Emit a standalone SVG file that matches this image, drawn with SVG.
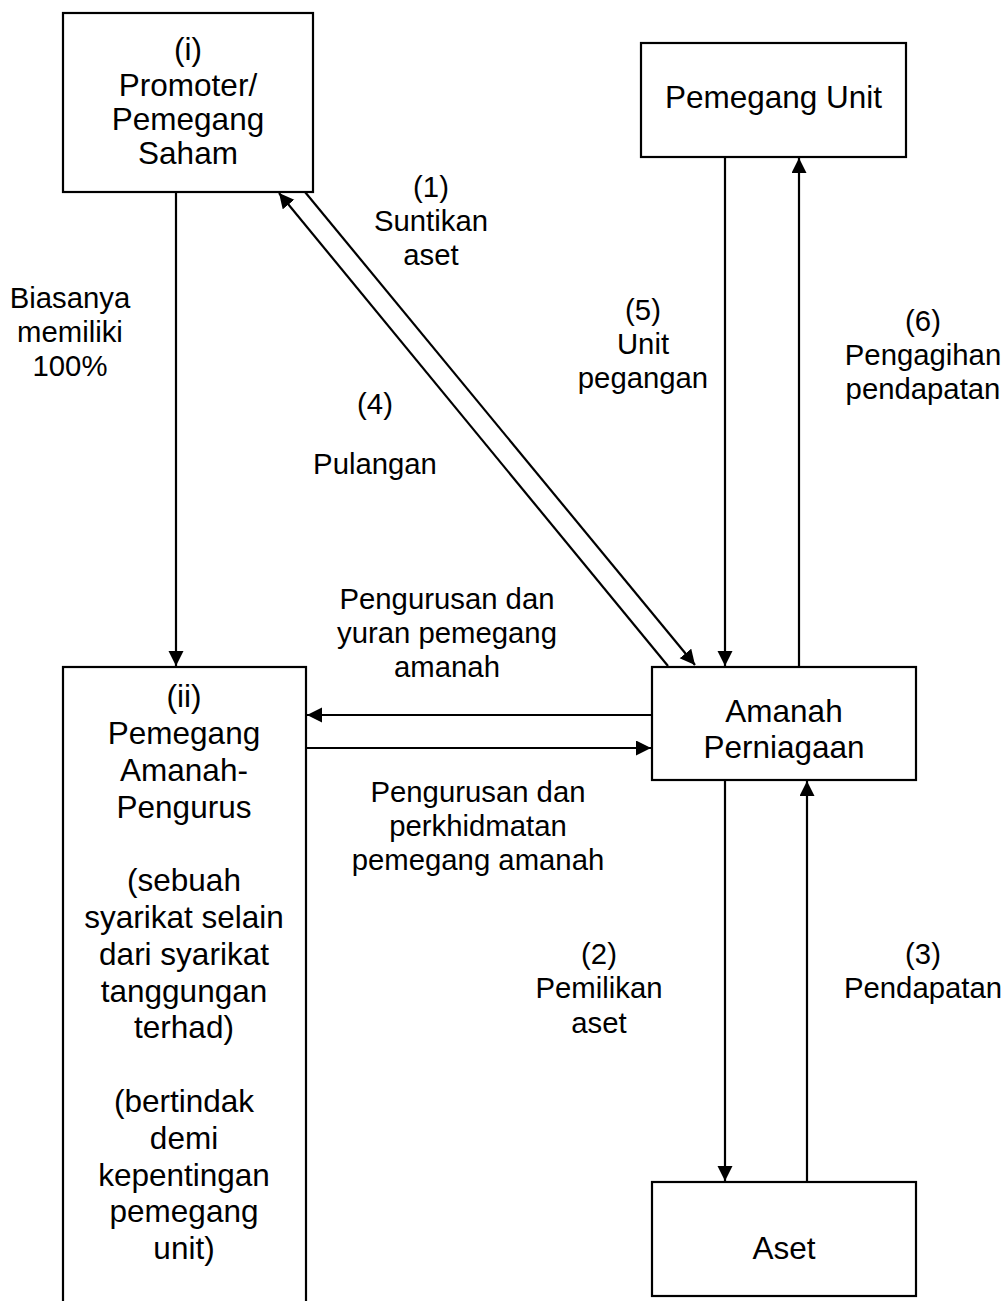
<svg xmlns="http://www.w3.org/2000/svg" width="1003" height="1301" viewBox="0 0 1003 1301">
<style>
  .box { fill: #ffffff; stroke: #000000; stroke-width: 2.2; }
  .nt { font-family: "Liberation Sans", Arial, sans-serif; font-size: 31.5px; fill: #000000; text-anchor: middle; }
  .lt { font-family: "Liberation Sans", Arial, sans-serif; font-size: 29.3px; fill: #000000; text-anchor: middle; }
  .edge { stroke: #000000; stroke-width: 2.2; fill: none; }
  .arr { marker-end: url(#ah); }
</style>
<defs>
  <marker id="ah" markerUnits="userSpaceOnUse" markerWidth="16" markerHeight="16" refX="15" refY="7.5" orient="auto">
    <path d="M0,0 L15,7.5 L0,15 z" fill="#000000"/>
  </marker>
</defs>
<rect x="0" y="0" width="1003" height="1301" fill="#ffffff"/>

<g id="connectors">
  <line class="edge arr" x1="176" y1="192" x2="176" y2="666"/>
  <line class="edge arr" x1="305" y1="192" x2="695" y2="665"/>
  <line class="edge arr" x1="668" y1="666" x2="279" y2="193"/>
  <line class="edge arr" x1="725" y1="157" x2="725" y2="666"/>
  <line class="edge arr" x1="799" y1="667" x2="799" y2="158"/>
  <line class="edge arr" x1="652" y1="715" x2="307" y2="715"/>
  <line class="edge arr" x1="306" y1="748" x2="651" y2="748"/>
  <line class="edge arr" x1="725" y1="780" x2="725" y2="1181"/>
  <line class="edge arr" x1="807" y1="1182" x2="807" y2="781"/>
  <text class="lt" x="70" y="308">Biasanya</text>
  <text class="lt" x="70" y="342">memiliki</text>
  <text class="lt" x="70" y="376">100%</text>
  <text class="lt" x="431" y="197">(1)</text>
  <text class="lt" x="431" y="231">Suntikan</text>
  <text class="lt" x="431" y="265">aset</text>
  <text class="lt" x="375" y="414">(4)</text>
  <text class="lt" x="375" y="474">Pulangan</text>
  <text class="lt" x="643" y="320">(5)</text>
  <text class="lt" x="643" y="354">Unit</text>
  <text class="lt" x="643" y="388">pegangan</text>
  <text class="lt" x="923" y="331">(6)</text>
  <text class="lt" x="923" y="365">Pengagihan</text>
  <text class="lt" x="923" y="399">pendapatan</text>
  <text class="lt" x="447" y="609">Pengurusan dan</text>
  <text class="lt" x="447" y="643">yuran pemegang</text>
  <text class="lt" x="447" y="677">amanah</text>
  <text class="lt" x="478" y="802">Pengurusan dan</text>
  <text class="lt" x="478" y="836">perkhidmatan</text>
  <text class="lt" x="478" y="870">pemegang amanah</text>
  <text class="lt" x="599" y="964">(2)</text>
  <text class="lt" x="599" y="998">Pemilikan</text>
  <text class="lt" x="599" y="1033">aset</text>
  <text class="lt" x="923" y="964">(3)</text>
  <text class="lt" x="923" y="998">Pendapatan</text>
</g>

<g id="node-promoter">
  <rect class="box" x="63" y="13" width="250" height="179"/>
  <text class="nt" x="188" y="60">(i)</text>
  <text class="nt" x="188" y="96">Promoter/</text>
  <text class="nt" x="188" y="130">Pemegang</text>
  <text class="nt" x="188" y="164">Saham</text>
</g>

<g id="node-pemegang-unit">
  <rect class="box" x="641" y="43" width="265" height="114"/>
  <text class="nt" x="773.5" y="108">Pemegang Unit</text>
</g>

<g id="node-pemegang-amanah">
  <rect class="box" x="63" y="667" width="243" height="680"/>
  <text class="nt" x="184" y="707">(ii)</text>
  <text class="nt" x="184" y="744">Pemegang</text>
  <text class="nt" x="184" y="781">Amanah-</text>
  <text class="nt" x="184" y="818">Pengurus</text>
  <text class="nt" x="184" y="891">(sebuah</text>
  <text class="nt" x="184" y="928">syarikat selain</text>
  <text class="nt" x="184" y="965">dari syarikat</text>
  <text class="nt" x="184" y="1002">tanggungan</text>
  <text class="nt" x="184" y="1038">terhad)</text>
  <text class="nt" x="184" y="1112">(bertindak</text>
  <text class="nt" x="184" y="1149">demi</text>
  <text class="nt" x="184" y="1186">kepentingan</text>
  <text class="nt" x="184" y="1222">pemegang</text>
  <text class="nt" x="184" y="1259">unit)</text>
</g>

<g id="node-amanah-perniagaan">
  <rect class="box" x="652" y="667" width="264" height="113"/>
  <text class="nt" x="784" y="722">Amanah</text>
  <text class="nt" x="784" y="758">Perniagaan</text>
</g>

<g id="node-aset">
  <rect class="box" x="652" y="1182" width="264" height="114"/>
  <text class="nt" x="784" y="1259">Aset</text>
</g>
</svg>
